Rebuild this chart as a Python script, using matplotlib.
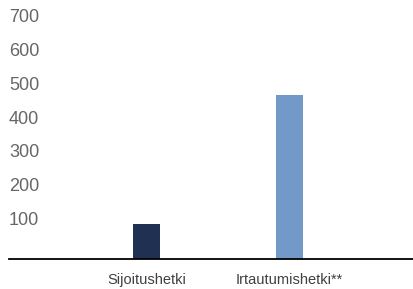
import matplotlib.pyplot as plt

# data
categories = ['Sijoitushetki', 'Irtautumishetki**']
values = [103, 484]
bar_colors = ['#1f3052', '#7399c9']
y_ticks = [100, 200, 300, 400, 500, 600, 700]

plt.rcParams['font.family'] = ['Liberation Sans', 'DejaVu Sans']

fig = plt.figure(figsize=(4.14, 2.89), dpi=100)
ax = fig.add_axes([9/414, 30/289, 405/414, 259/289])

ax.bar(range(len(categories)), values, width=0.19, color=bar_colors)

ax.set_xlim(-0.963, 1.873)
ax.set_ylim(0, 765)

# axis styling
for side in ['top', 'right', 'left']:
    ax.spines[side].set_visible(False)
ax.spines['bottom'].set_color('black')
ax.spines['bottom'].set_linewidth(1.3)

ax.set_xticks(range(len(categories)))
ax.set_xticklabels(categories, fontsize=10.5, color='#404040')
ax.tick_params(axis='x', length=0, pad=10)

ax.set_yticks(y_ticks)
ax.set_yticklabels([str(v) for v in y_ticks], fontsize=13, color='#666666',
                   ha='left', va='baseline')
ax.tick_params(axis='y', length=0, pad=0)

fig.savefig('out.png', dpi=100)
